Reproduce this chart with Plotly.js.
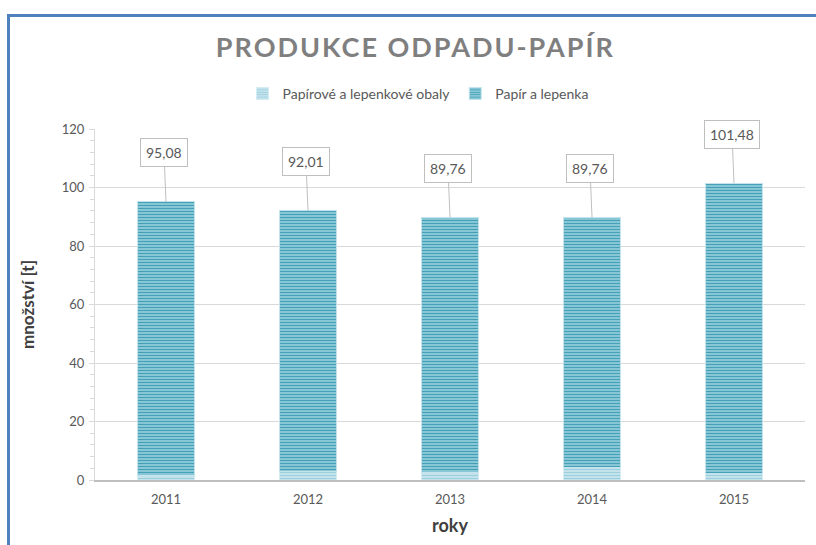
<!DOCTYPE html>
<html>
<head>
<meta charset="utf-8">
<script src="https://cdn.plot.ly/plotly-3.0.1.min.js"></script>
<style>
  html, body { margin: 0; padding: 0; background: #ffffff; overflow: hidden; }
  #frame { position: absolute; left: 7px; top: 14px; width: 830px; height: 560px;
           border-left: 3px solid #4F81BD; border-top: 3px solid #4F81BD; box-sizing: border-box; }
  #chart { position: absolute; left: 0; top: 0; width: 816px; height: 545px; }
  .gtitle { letter-spacing: 2px; }
</style>
</head>
<body>
<div id="frame"></div>
<div id="chart"></div>
<script>
// Data
const years = ['2011', '2012', '2013', '2014', '2015'];
const obaly = [1.5, 2.8, 2.6, 4.3, 2.3];            // Papírové a lepenkové obaly
const papir = [93.58, 89.21, 87.16, 85.46, 99.18];   // Papír a lepenka
const totals = [95.08, 92.01, 89.76, 89.76, 101.48];
const totalLabels = ['95,08', '92,01', '89,76', '89,76', '101,48'];

const FONT = 'Lato, "Open Sans", sans-serif';

const traces = [
  {
    type: 'bar', name: 'Papírové a lepenkové obaly', x: years, y: obaly,
    marker: {
      color: '#c3e2ec',
      line: { color: '#d6ecf3', width: 1 },
      pattern: { shape: '-', fgcolor: '#9acfde', bgcolor: '#cce7ef', size: 3, solidity: 0.45 }
    },
    hoverinfo: 'skip'
  },
  {
    type: 'bar', name: 'Papír a lepenka', x: years, y: papir,
    marker: {
      color: '#8ccad8',
      line: { color: '#c4e3ec', width: 1 },
      pattern: { shape: '-', fgcolor: '#45a1b8', bgcolor: '#9dd2df', size: 3, solidity: 0.5 }
    },
    hoverinfo: 'skip'
  }
];

const annotations = years.map((yr, i) => ({
  x: i, y: totals[i], xref: 'x', yref: 'y',
  text: totalLabels[i],
  showarrow: true, arrowhead: 0, arrowwidth: 1, arrowcolor: '#bfbfbf',
  ax: -2, ay: -49,
  bgcolor: '#ffffff', bordercolor: '#bfbfbf', borderwidth: 1, borderpad: 5,
  font: { family: FONT, size: 14, color: '#595959' }
}));

const layout = {
  width: 816, height: 545,
  margin: { l: 95, r: 11, t: 129, b: 65 },
  paper_bgcolor: 'rgba(0,0,0,0)',
  plot_bgcolor: 'rgba(0,0,0,0)',
  barmode: 'stack',
  bargap: 0.6,
  font: { family: FONT, color: '#595959' },
  title: {
    text: 'PRODUKCE ODPADU-PAPÍR',
    font: { family: FONT, size: 27, color: '#7f7f7f', weight: 700 },
    x: 0.509, xref: 'container', xanchor: 'center',
    y: 0.912, yref: 'container', yanchor: 'middle'
  },
  showlegend: true,
  legend: {
    orientation: 'h', x: 0.455, xanchor: 'center', y: 1.1, yanchor: 'middle',
    font: { family: FONT, size: 14, color: '#595959' },
    traceorder: 'normal'
  },
  xaxis: {
    type: 'category',
    range: [-0.5, 4.5], autorange: false,
    showline: true, linecolor: '#bfbfbf', linewidth: 2,
    ticks: '', showgrid: false,
    ticklabelstandoff: 6,
    tickfont: { family: FONT, size: 13, color: '#595959' },
    title: { text: 'roky', font: { family: FONT, size: 18, color: '#404040', weight: 700 }, standoff: 14 }
  },
  yaxis: {
    range: [0, 120], autorange: false, dtick: 20,
    showgrid: true, gridcolor: '#d9d9d9', gridwidth: 1,
    showline: true, linecolor: '#d9d9d9', linewidth: 1,
    ticks: 'outside', ticklen: 5, tickcolor: '#d9d9d9',
    ticklabelstandoff: 2,
    minor: { dtick: 4, ticks: 'outside', ticklen: 4, tickcolor: '#d9d9d9', showgrid: false },
    zeroline: false,
    tickfont: { family: FONT, size: 13, color: '#595959' },
    title: { text: 'množství [t]', font: { family: FONT, size: 17, color: '#404040', weight: 700 }, standoff: 22 }
  },
  annotations: annotations
};

Plotly.newPlot('chart', traces, layout, { staticPlot: true, displayModeBar: false });
</script>
</body>
</html>
